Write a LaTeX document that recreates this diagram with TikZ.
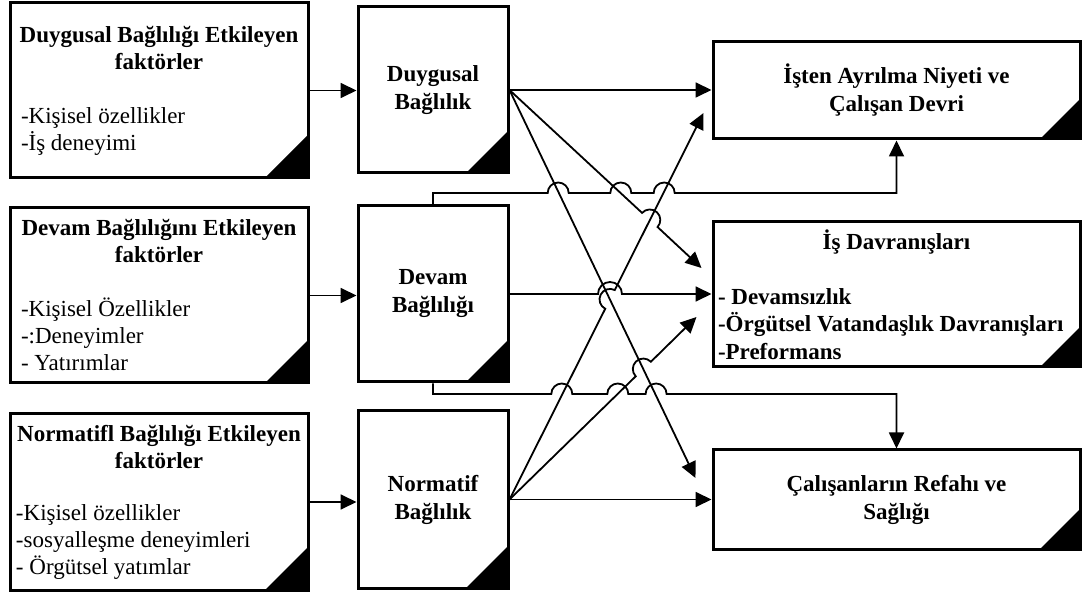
\documentclass[tikz,border=0pt]{standalone}
\usepackage{fontspec}
\setmainfont{Liberation Serif}
\usetikzlibrary{arrows.meta,calc}
\begin{document}
\begin{tikzpicture}[x=1pt,y=1pt,
  box/.style={draw, line width=3pt, inner sep=0pt, fill=white,
    font=\fontsize{23pt}{27pt}\selectfont,
    path picture={\fill[black] (path picture bounding box.south east) -- ++(-#1,0) -- ++(#1,#1) -- cycle;}},
  bbox/.style={box=#1, font=\fontsize{23pt}{28pt}\selectfont\bfseries},
  conn/.style={line width=1.8pt},
  arr/.style={conn,-{Triangle[length=16pt,width=15pt]}}]
\fill[white] (0,0) rectangle (1082,-593);
\useasboundingbox (0,0) rectangle (1082,-593);

% left boxes
\node[box=43, minimum width=298pt, minimum height=175pt, text width=276pt, align=flush left] (L1) at (159,-90.5)
 {\makebox[\hsize]{\bfseries Duygusal Bağlılığı Etkileyen}\\ \makebox[\hsize]{\bfseries faktörler}\\[27pt]
  -Kişisel özellikler\\ -İş deneyimi};
\node[box=43, minimum width=298pt, minimum height=175pt, text width=276pt, align=flush left] (L2) at (159,-295.5)
 {\makebox[\hsize]{\bfseries Devam Bağlılığını Etkileyen}\\ \makebox[\hsize]{\bfseries faktörler}\\[27pt]
  -Kişisel Özellikler\\ -:Deneyimler\\ - Yatırımlar};
\node[box=43, minimum width=298pt, minimum height=176pt, text width=286pt, align=flush left] (L3) at (159,-502)
 {\makebox[\hsize]{\bfseries Normatifl Bağlılığı Etkileyen}\\ \makebox[\hsize]{\bfseries faktörler}\\[25pt]
  -Kişisel özellikler\\ -sosyalleşme deneyimleri\\ - Örgütsel yatımlar};

% middle boxes
\node[bbox=42, minimum width=150pt, minimum height=166pt, align=flush center] (M1) at (433,-90) {Duygusal\\Bağlılık};
\node[bbox=42, minimum width=150pt, minimum height=176pt, align=flush center] (M2) at (433,-294) {Devam\\Bağlılığı};
\node[bbox=42, minimum width=150pt, minimum height=177pt, align=flush center] (M3) at (433,-499.5) {Normatif\\Bağlılık};

% right boxes
\node[bbox=40, minimum width=367pt, minimum height=97pt, align=flush center] (R1) at (896.5,-90.5)
 {İşten Ayrılma Niyeti ve\\Çalışan Devri};
\node[bbox=40, minimum width=367pt, minimum height=145pt, text width=357pt, align=flush left,
  font=\fontsize{23pt}{27.5pt}\selectfont\bfseries] (R2) at (896.5,-294.5)
 {\makebox[\hsize]{İş Davranışları}\\[27.5pt] - Devamsızlık\\ -Örgütsel Vatandaşlık Davranışları\\ -Preformans};
\node[bbox=40, minimum width=367pt, minimum height=99pt, align=flush center] (R3) at (896.5,-499.5)
 {Çalışanların Refahı ve\\Sağlığı};

% free arrow ends
\coordinate (tR1) at ([shift={(-8,-22.5)}]R1.west);
\coordinate (tR2a) at ([shift={(-10,26.5)}]R2.west);
\coordinate (tR2b) at ([shift={(-15,-22.5)}]R2.west);
\coordinate (tR3) at ([shift={(-16,21.5)}]R3.west);

% left to middle
\draw[arr] (L1.east) -- (L1.east -| M1.west);
\draw[arr] (L2.east) -- (L2.east -| M2.west);
\draw[arr] (L3.east) -- (L3.east -| M3.west);

% straight ones
\draw[arr] (M1.east) -- (M1.east -| R1.west);
\draw[arr] (M3.east) -- (M3.east -| R3.west);
\draw[arr] (M2.east) -- (598,-294) arc[start angle=180,end angle=0,radius=12] -- (M2.east -| R2.west);

% feedback lines with jumps
\draw[arr] (M2.north) |- (547.7,-193)
  arc[start angle=180,end angle=0,radius=10.5] -- (610.3,-193)
  arc[start angle=180,end angle=0,radius=10.5] -- (653.7,-193)
  arc[start angle=180,end angle=0,radius=10.5] -| (R1.south);
\draw[arr] (M2.south) |- (551.3,-394)
  arc[start angle=180,end angle=0,radius=10.5] -- (607.3,-394)
  arc[start angle=180,end angle=0,radius=10.5] -- (645.6,-394)
  arc[start angle=180,end angle=0,radius=10.5] -| (R3.north);

% diagonals
\draw[arr] (M1.east) -- (tR3);
\coordinate (h1) at ($(M1.east)!0.7305!(tR2a)$);
\draw[arr] (M1.east) -- ($(h1)!10.5pt!(M1.east)$) arc[start angle=137.61,delta angle=-180,radius=10.5] -- (tR2a);
\coordinate (h2) at ($(M3.east)!0.5178!(tR1)$);
\draw[arr] (M3.east) -- ($(h2)!10.5pt!(M3.east)$) arc[start angle=242.99,delta angle=-180,radius=10.5] -- (tR1);
\coordinate (h3) at ($(M3.east)!0.7152!(tR2b)$);
\draw[arr] (M3.east) -- ($(h3)!10.5pt!(M3.east)$) arc[start angle=223.85,delta angle=-180,radius=10.5] -- (tR2b);
\end{tikzpicture}
\end{document}
